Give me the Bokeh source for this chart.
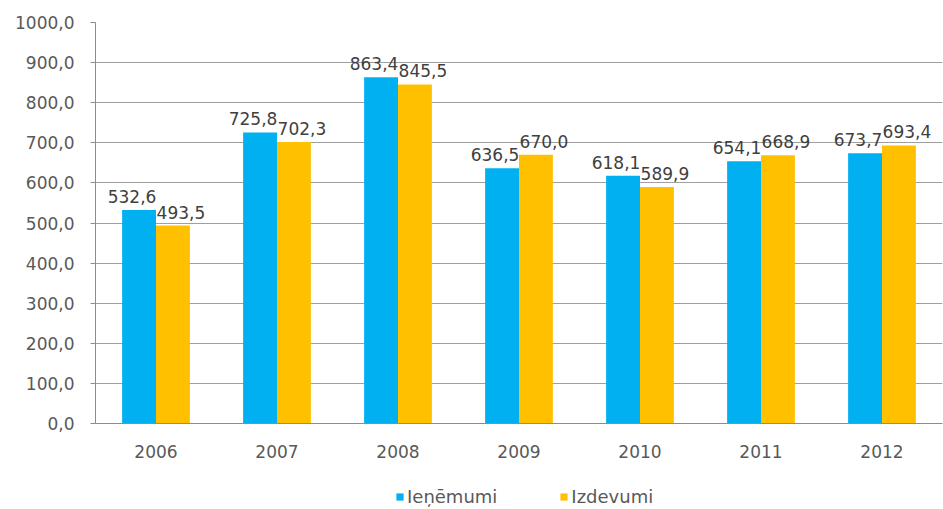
from bokeh.plotting import figure
from bokeh.layouts import column
from bokeh.models import (ColumnDataSource, FactorRange, Legend, LegendItem,
                          SingleIntervalTicker, CustomJSTickFormatter, Range1d)
from bokeh.transform import dodge
from bokeh.core.properties import value
from bokeh.embed import file_html
from bokeh.resources import INLINE

years = ["2006", "2007", "2008", "2009", "2010", "2011", "2012"]
ienemumi = [532.6, 725.8, 863.4, 636.5, 618.1, 654.1, 673.7]
izdevumi = [493.5, 702.3, 845.5, 670.0, 589.9, 668.9, 693.4]
series_names = ["Ieņēmumi", "Izdevumi"]

BLUE = "#00B0F0"
YELLOW = "#FFC000"
FONT = "DejaVu Sans"


def fmt(v):
    return f"{v:.1f}".replace(".", ",")


src = ColumnDataSource(dict(
    year=years,
    ien=ienemumi,
    izd=izdevumi,
    ien_lbl=[fmt(v) for v in ienemumi],
    izd_lbl=[fmt(v) for v in izdevumi],
))

p = figure(width=943, height=464, output_backend="svg", toolbar_location=None,
           x_range=FactorRange(factors=years, range_padding=0),
           y_range=Range1d(0, 1000),
           min_border_left=95, min_border_right=1, min_border_top=22,
           min_border_bottom=41)
p.outline_line_color = None
p.background_fill_color = "white"

p.vbar(x=dodge("year", -0.14, range=p.x_range), top="ien", width=0.28,
       source=src, fill_color=BLUE, line_color=None)
p.vbar(x=dodge("year", 0.14, range=p.x_range), top="izd", width=0.28,
       source=src, fill_color=YELLOW, line_color=None)

p.text(x=dodge("year", -0.14, range=p.x_range), y="ien", text="ien_lbl",
       source=src, text_align="center", text_baseline="bottom",
       x_offset=-7, y_offset=-7, text_font=value(FONT),
       text_font_size="17px", text_color="#404040")
p.text(x=dodge("year", 0.14, range=p.x_range), y="izd", text="izd_lbl",
       source=src, text_align="center", text_baseline="bottom",
       x_offset=8, y_offset=-7, text_font=value(FONT),
       text_font_size="17px", text_color="#404040")

# y axis
p.yaxis.ticker = SingleIntervalTicker(interval=100)
p.yaxis.formatter = CustomJSTickFormatter(code="return tick.toFixed(1).replace('.', ',');")
p.yaxis.major_label_text_font = FONT
p.yaxis.major_label_text_font_size = "17px"
p.yaxis.major_label_text_color = "#595959"
p.yaxis.axis_line_color = "#8C8C8C"
p.yaxis.major_tick_line_color = "#8C8C8C"
p.yaxis.major_tick_out = 5
p.yaxis.major_tick_in = 0
p.yaxis.minor_tick_line_color = None
p.yaxis.major_label_standoff = 16

# x axis
p.xaxis.major_label_text_font = FONT
p.xaxis.major_label_text_font_size = "17px"
p.xaxis.major_label_text_color = "#595959"
p.xaxis.axis_line_color = "#8C8C8C"
p.xaxis.major_tick_line_color = None
p.xaxis.major_tick_out = 0
p.xaxis.major_label_standoff = 21

p.xgrid.grid_line_color = None
p.ygrid.grid_line_color = "#A0A0A0"
p.ygrid.grid_line_width = 1

# legend strip below the chart (key glyphs sit outside the strip's visible range)
lg = figure(width=943, height=45, output_backend="svg", toolbar_location=None,
            x_range=Range1d(0, 1), y_range=Range1d(0, 1),
            x_axis_type=None, y_axis_type=None,
            min_border_left=0, min_border_right=0, min_border_top=0,
            min_border_bottom=0)
lg.outline_line_color = None
lg.xgrid.grid_line_color = None
lg.ygrid.grid_line_color = None
k1 = lg.vbar(x=[-10], top=[-10], bottom=[-11], width=0.1,
             fill_color=BLUE, line_color=None)
k2 = lg.vbar(x=[-10], top=[-10], bottom=[-11], width=0.1,
             fill_color=YELLOW, line_color=None)

legend = Legend(items=[LegendItem(label=series_names[0], renderers=[k1]),
                       LegendItem(label=series_names[1], renderers=[k2])],
                location=(300, 2), orientation="horizontal")
legend.label_text_font = FONT
legend.label_text_font_size = "18px"
legend.label_text_color = "#595959"
legend.glyph_width = 9
legend.glyph_height = 9
legend.label_standoff = 3
legend.spacing = 62
legend.padding = 0
legend.margin = 0
legend.border_line_color = None
legend.background_fill_alpha = 0
lg.add_layout(legend, "center")

layout = column(p, lg, spacing=0)
open("out.html", "w").write(file_html(layout, INLINE))
